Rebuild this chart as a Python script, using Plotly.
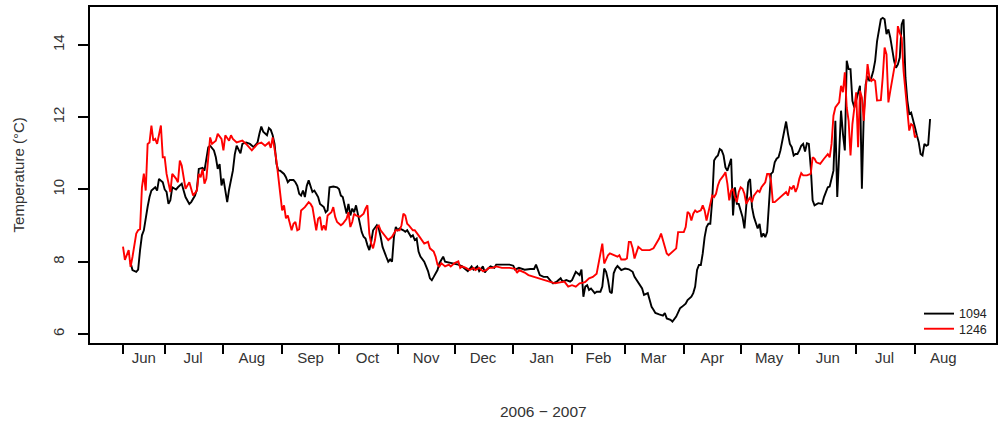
import datetime as dt
import plotly.graph_objects as go

# Daily mean water temperature at two loggers, day offsets from the first record
start_date = dt.date(2006, 6, 9)

logger_1094 = [
    (4, 7.97), (5, 7.77), (7, 7.72), (8, 7.78), (9, 8.32), (10, 8.73), (11, 8.87), (12, 9.24),
    (13, 9.52), (14, 9.79), (15, 9.97), (17, 10.06), (18, 9.97), (19, 10.29), (21, 10.2), (22, 10.0),
    (23, 9.93), (24, 9.6), (25, 9.7), (26, 10.06), (28, 10.0), (29, 10.06), (31, 10.16), (32, 9.97),
    (33, 9.79), (35, 9.6), (36, 9.65), (38, 9.83), (39, 10.0), (40, 10.57), (42, 10.6), (43, 10.52),
    (44, 10.8), (45, 11.17), (46, 11.21), (48, 11.08), (49, 10.89), (50, 10.57), (51, 10.7), (52, 10.11),
    (53, 10.3), (54, 9.97), (55, 9.65), (56, 10.0), (57, 10.25), (58, 10.52), (59, 10.97), (60, 11.21),
    (62, 11.0), (63, 11.26), (65, 11.3), (67, 11.26), (69, 11.17), (71, 11.3), (72, 11.54), (73, 11.74),
    (74, 11.6), (76, 11.5), (77, 11.7), (78, 11.65), (79, 11.5), (80, 11.26), (81, 10.71), (82, 10.52),
    (83, 10.52), (85, 10.43), (86, 10.34), (87, 10.2), (88, 10.26), (90, 10.26), (91, 10.2), (92, 10.1),
    (93, 9.88), (94, 9.83), (95, 9.97), (96, 9.79), (97, 10.1), (98, 10.25), (100, 9.93), (101, 9.97),
    (102, 9.88), (103, 9.79), (104, 9.6), (106, 9.51), (107, 9.37), (108, 9.42), (109, 10.06), (111, 10.08),
    (113, 10.06), (114, 10.01), (115, 9.83), (116, 9.79), (117, 9.56), (118, 9.33), (119, 9.6), (120, 9.28),
    (121, 9.47), (122, 9.37), (123, 9.56), (124, 9.33), (125, 9.14), (126, 8.82), (127, 8.69), (128, 8.64),
    (129, 8.46), (130, 8.32), (131, 8.55), (132, 8.87), (134, 9.01), (135, 8.92), (136, 8.69), (137, 8.41),
    (139, 8.13), (140, 8.0), (141, 8.06), (142, 8.0), (143, 8.68), (144, 8.96), (145, 8.87), (146, 8.92),
    (148, 8.87), (149, 8.83), (150, 8.87), (152, 8.69), (153, 8.73), (154, 8.6), (155, 8.64), (156, 8.28),
    (157, 8.14), (159, 8.0), (160, 7.87), (161, 7.74), (162, 7.54), (163, 7.49), (164, 7.58), (166, 7.77),
    (167, 7.96), (168, 8.05), (169, 8.14), (170, 8.0), (172, 7.98), (174, 7.96), (177, 7.92), (179, 7.87),
    (181, 7.78), (182, 7.74), (184, 7.87), (185, 7.78), (187, 7.87), (188, 7.74), (190, 7.87), (191, 7.7),
    (192, 7.78), (194, 7.87), (196, 7.83), (197, 7.92), (200, 7.92), (204, 7.92), (206, 7.89), (207, 7.78),
    (209, 7.83), (212, 7.78), (215, 7.8), (217, 7.8), (218, 7.92), (219, 7.78), (220, 7.63), (222, 7.58),
    (224, 7.58), (226, 7.45), (227, 7.4), (229, 7.45), (231, 7.54), (232, 7.45), (234, 7.49), (236, 7.45),
    (237, 7.49), (239, 7.72), (240, 7.68), (241, 7.63), (242, 7.78), (243, 7.03), (244, 7.31), (245, 7.35),
    (246, 7.22), (247, 7.26), (249, 7.13), (250, 7.17), (252, 7.17), (253, 7.31), (254, 7.81), (255, 7.72),
    (256, 7.49), (257, 7.17), (258, 7.13), (259, 7.68), (260, 7.81), (261, 7.88), (263, 7.77), (265, 7.81),
    (267, 7.79), (269, 7.72), (270, 7.58), (271, 7.49), (273, 7.35), (274, 7.26), (275, 7.08), (277, 7.13),
    (278, 6.94), (279, 6.75), (280, 6.67), (281, 6.58), (283, 6.54), (285, 6.51), (286, 6.58), (287, 6.43),
    (289, 6.39), (290, 6.34), (292, 6.48), (293, 6.62), (294, 6.71), (295, 6.75), (297, 6.84), (298, 6.94),
    (300, 7.03), (301, 7.13), (302, 7.31), (303, 7.77), (304, 7.91), (305, 7.91), (306, 8.23), (307, 8.68),
    (308, 8.96), (309, 9.05), (310, 9.05), (311, 9.7), (312, 10.8), (313, 10.89), (314, 10.94), (315, 11.12),
    (316, 11.08), (317, 10.94), (318, 10.61), (319, 10.52), (320, 10.66), (321, 10.85), (322, 9.28), (323, 10.06),
    (324, 9.6), (325, 9.6), (326, 9.42), (327, 9.24), (328, 8.92), (329, 9.6), (330, 10.2), (331, 10.29),
    (332, 9.51), (333, 9.24), (334, 9.05), (335, 8.92), (336, 9.05), (337, 8.68), (338, 8.78), (339, 8.68),
    (340, 8.82), (341, 9.7), (342, 10.43), (343, 10.48), (344, 10.75), (345, 10.85), (346, 10.89), (347, 11.08),
    (348, 11.35), (349, 11.58), (350, 11.88), (351, 11.54), (352, 11.26), (353, 11.17), (354, 10.94), (355, 10.98),
    (356, 10.98), (357, 11.08), (358, 11.21), (359, 11.26), (360, 11.05), (361, 11.28), (362, 11.26), (363, 10.62),
    (364, 9.7), (365, 9.56), (367, 9.62), (369, 9.6), (370, 9.79), (372, 10.06), (373, 10.08), (375, 10.52),
    (376, 11.9), (377, 9.79), (378, 11.26), (379, 12.18), (380, 11.54), (381, 11.08), (382, 13.56), (383, 13.33),
    (384, 13.33), (385, 12.45), (386, 12.27), (387, 12.45), (388, 12.64), (389, 12.87), (390, 10.02), (391, 12.09),
    (392, 12.91), (393, 13.14), (394, 13.0), (395, 13.09), (396, 13.28), (397, 13.56), (398, 14.1), (399, 14.38),
    (400, 14.71), (401, 14.75), (402, 14.71), (403, 14.3), (404, 14.43), (405, 14.2), (406, 13.83), (407, 13.56),
    (408, 13.37), (409, 13.46), (410, 13.65), (411, 14.57), (412, 14.71), (413, 13.1), (414, 12.46), (415, 12.09),
    (416, 12.13), (417, 11.95), (418, 11.72), (419, 11.5), (420, 11.31), (421, 10.98), (422, 10.94), (423, 11.26),
    (424, 11.21), (425, 11.24), (426, 11.95),
]

logger_1246 = [
    (0, 8.42), (1, 8.05), (3, 8.32), (4, 7.86), (5, 8.13), (7, 8.78), (8, 8.87), (9, 8.9),
    (10, 10.06), (11, 10.44), (12, 9.97), (13, 11.26), (14, 11.3), (15, 11.77), (16, 11.35), (17, 11.4),
    (18, 11.26), (20, 11.77), (21, 10.89), (22, 10.89), (23, 10.43), (24, 10.16), (25, 9.93), (26, 10.43),
    (28, 10.3), (29, 10.2), (30, 10.8), (31, 10.66), (33, 10.02), (35, 10.2), (36, 9.97), (37, 9.83),
    (39, 9.97), (40, 10.43), (41, 10.34), (42, 10.57), (43, 10.16), (44, 10.3), (46, 11.44), (47, 11.26),
    (49, 11.35), (50, 11.54), (52, 11.4), (53, 11.08), (54, 11.5), (56, 11.35), (57, 11.5), (58, 11.4),
    (60, 11.3), (63, 11.35), (65, 11.26), (68, 11.08), (71, 11.26), (73, 11.3), (75, 11.21), (77, 11.3),
    (78, 11.15), (79, 11.44), (81, 10.8), (82, 10.34), (83, 9.88), (84, 9.42), (85, 9.56), (86, 9.2),
    (87, 9.28), (88, 9.1), (89, 8.87), (90, 9.05), (91, 9.1), (92, 8.87), (93, 8.9), (94, 9.42),
    (96, 9.51), (98, 9.65), (99, 9.6), (100, 9.51), (102, 8.87), (103, 9.19), (104, 9.24), (105, 8.87),
    (106, 9.01), (107, 8.87), (108, 9.28), (110, 9.37), (111, 9.51), (112, 9.24), (113, 9.1), (115, 9.01),
    (116, 9.05), (118, 9.19), (119, 9.37), (120, 8.96), (121, 9.1), (122, 9.33), (123, 9.28), (125, 9.24),
    (126, 9.28), (127, 9.33), (128, 9.47), (129, 9.56), (130, 8.78), (131, 8.5), (132, 8.37), (133, 8.6),
    (134, 8.96), (135, 9.0), (136, 8.87), (138, 8.73), (139, 8.69), (140, 8.6), (142, 8.69), (143, 8.78),
    (144, 8.87), (146, 8.87), (147, 9.01), (148, 9.33), (149, 9.28), (150, 9.05), (151, 9.0), (153, 8.87),
    (154, 8.87), (156, 8.73), (157, 8.64), (159, 8.5), (161, 8.55), (162, 8.37), (164, 8.28), (165, 8.14),
    (166, 7.92), (167, 7.87), (168, 7.96), (170, 7.87), (172, 7.92), (173, 7.87), (175, 7.96), (177, 8.01),
    (178, 7.83), (179, 7.87), (181, 7.83), (183, 7.77), (185, 7.83), (186, 7.77), (188, 7.83), (190, 7.74),
    (192, 7.77), (193, 7.83), (195, 7.83), (197, 7.87), (200, 7.83), (204, 7.83), (207, 7.8), (208, 7.69),
    (209, 7.77), (212, 7.7), (214, 7.63), (217, 7.58), (220, 7.54), (222, 7.49), (225, 7.45), (228, 7.4),
    (230, 7.42), (233, 7.45), (235, 7.31), (237, 7.35), (239, 7.31), (241, 7.4), (243, 7.42), (244, 7.44),
    (246, 7.54), (248, 7.58), (250, 7.67), (251, 7.95), (252, 8.27), (253, 8.5), (254, 7.95), (256, 8.18),
    (257, 8.23), (259, 8.18), (261, 8.14), (262, 8.18), (263, 8.06), (265, 8.06), (266, 8.09), (267, 8.55),
    (268, 8.55), (269, 8.37), (270, 8.09), (272, 8.41), (273, 8.37), (274, 8.32), (276, 8.32), (278, 8.32),
    (280, 8.37), (282, 8.55), (283, 8.64), (284, 8.78), (285, 8.6), (287, 8.23), (288, 8.18), (290, 8.28),
    (292, 8.37), (293, 8.82), (295, 8.82), (296, 8.82), (297, 8.96), (298, 9.38), (299, 9.33), (300, 9.14),
    (301, 9.33), (302, 9.42), (303, 9.37), (305, 9.42), (306, 9.56), (307, 9.42), (308, 9.14), (310, 9.6),
    (311, 9.83), (312, 9.79), (313, 9.88), (314, 10.11), (315, 10.25), (317, 10.39), (318, 10.48), (319, 10.16),
    (320, 9.7), (321, 9.97), (322, 10.02), (323, 9.79), (324, 9.65), (325, 9.93), (326, 10.06), (327, 10.02),
    (328, 9.88), (329, 9.6), (330, 9.7), (331, 9.79), (332, 9.65), (333, 9.83), (335, 9.97), (336, 9.93),
    (337, 10.06), (339, 10.2), (340, 10.43), (341, 10.43), (342, 10.25), (343, 9.65), (344, 9.65), (346, 9.74),
    (347, 9.79), (348, 9.83), (350, 9.93), (351, 9.83), (352, 10.06), (353, 10.02), (354, 10.11), (355, 9.93),
    (356, 10.06), (357, 10.3), (358, 10.45), (359, 10.39), (361, 10.39), (363, 10.43), (364, 10.89), (365, 10.85),
    (366, 10.75), (368, 10.71), (369, 10.8), (370, 10.85), (372, 10.98), (373, 10.89), (374, 11.26), (375, 12.04),
    (376, 12.27), (378, 12.41), (379, 12.87), (380, 12.69), (381, 13.24), (382, 12.27), (383, 11.9), (384, 10.94),
    (385, 11.81), (386, 12.27), (387, 12.69), (388, 11.17), (389, 12.73), (390, 12.55), (391, 11.9), (392, 12.73),
    (393, 13.47), (394, 13.1), (395, 13.0), (396, 13.05), (397, 13.0), (398, 12.46), (399, 12.46), (400, 12.47),
    (401, 13.1), (402, 13.93), (403, 13.74), (404, 12.41), (405, 12.73), (406, 13.1), (407, 13.33), (408, 13.56),
    (409, 14.52), (410, 14.33), (411, 14.2), (412, 13.28), (413, 12.73), (414, 12.18), (415, 11.63), (416, 11.81),
    (417, 11.77), (418, 11.44), (419, 11.49),
]

# Month boundaries drawn as ticks, and the month names written between them
month_breaks = ["2006-06-09", "2006-07-01", "2006-08-01", "2006-09-01", "2006-10-01",
                "2006-11-01", "2006-12-01", "2007-01-01", "2007-02-01", "2007-03-01",
                "2007-04-01", "2007-05-01", "2007-06-01", "2007-07-01", "2007-08-01",
                "2007-09-01"]
month_names = ["Jun", "Jul", "Aug", "Sep", "Oct", "Nov", "Dec", "Jan",
               "Feb", "Mar", "Apr", "May", "Jun", "Jul", "Aug"]
temp_ticks = [6, 8, 10, 12, 14]

series_names = ["1094", "1246"]
series_colors = ["black", "red"]

FONT = "Liberation Sans, Arial, sans-serif"


def to_dates(obs):
    return [start_date + dt.timedelta(days=d) for d, _ in obs], [v for _, v in obs]


breaks = [dt.date.fromisoformat(s) for s in month_breaks]
label_pos = [breaks[i] + (breaks[i + 1] - breaks[i]) / 2 for i in range(len(breaks) - 1)]

fig = go.Figure()
legend_ids = ["legend", "legend2"]
for obs, name, color, lg in zip([logger_1094, logger_1246], series_names, series_colors, legend_ids):
    xs, ys = to_dates(obs)
    fig.add_trace(go.Scatter(x=xs, y=ys, mode="lines", name=name, legend=lg,
                             line=dict(color=color, width=1.9)))

legend_style = dict(xanchor="left", yanchor="top", bgcolor="rgba(0,0,0,0)",
                    font=dict(size=12.5, color="#222"), itemwidth=30)

fig.update_layout(
    width=1000, height=428,
    margin=dict(l=90, r=2, t=7, b=85),
    paper_bgcolor="white", plot_bgcolor="white",
    font=dict(family=FONT, color="#222"),
    showlegend=True,
    legend=dict(x=0.915, y=0.131, **legend_style),
    legend2=dict(x=0.915, y=0.086, **legend_style),
)

fig.update_xaxes(
    type="date",
    range=[dt.datetime(2006, 5, 22, 14), dt.datetime(2007, 9, 12, 19)],
    tickmode="array", tickvals=label_pos, ticktext=month_names,
    ticks="outside", ticklen=0, tickfont=dict(size=15, color="#333"),
    minor=dict(tickmode="array", tickvals=breaks[:-1], ticks="outside",
               ticklen=9, tickwidth=2, tickcolor="black"),
    showgrid=False, zeroline=False,
    showline=True, mirror=True, linecolor="black", linewidth=2,
)

fig.update_yaxes(
    range=[5.75, 15.05],
    tickmode="array", tickvals=temp_ticks, ticktext=[str(t) for t in temp_ticks],
    ticks="outside", ticklen=10, tickwidth=1.5, tickcolor="black",
    tickangle=-90, tickfont=dict(size=15, color="#333"), ticklabelstandoff=8,
    showgrid=False, zeroline=False,
    showline=True, mirror=True, linecolor="black", linewidth=2,
)

fig.add_annotation(text="Temperature (°C)", xref="paper", yref="paper",
                   x=-0.079, y=0.5, xanchor="center", yanchor="middle",
                   textangle=-90, showarrow=False, font=dict(size=15, color="#333"))
fig.add_annotation(text="2006 \u2212 2007", xref="paper", yref="paper",
                   x=0.501, y=-0.205, xanchor="center", yanchor="middle",
                   showarrow=False, font=dict(size=15.5, color="#333"))

fig.write_html("out.html")
